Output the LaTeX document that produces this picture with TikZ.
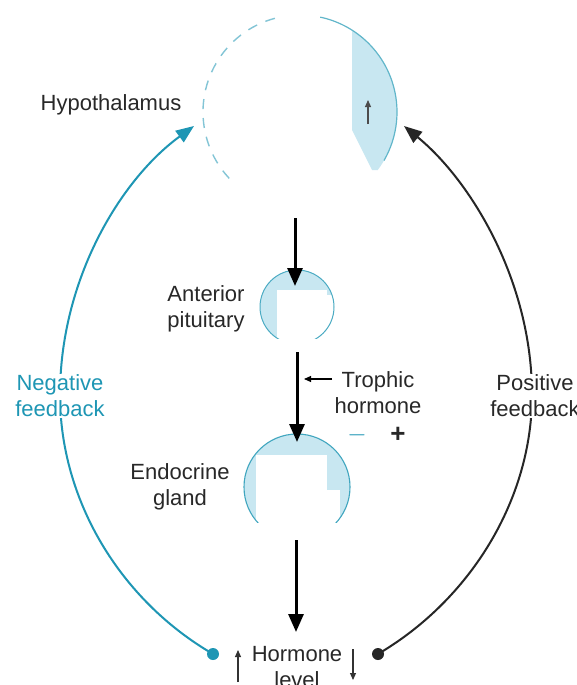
\documentclass[tikz,border=0pt]{standalone}
\usepackage{fontspec}
\setmainfont{Liberation Sans}
\usetikzlibrary{arrows.meta}
\definecolor{fbblue}{RGB}{30,150,180}
\definecolor{lightsh}{RGB}{200,231,241}
\definecolor{txt}{RGB}{40,40,40}
\tikzset{
  lbl/.style={text=txt, font=\fontsize{22}{26}\selectfont, align=center, inner sep=1pt},
  sgn/.style={font=\fontsize{26}{26}\selectfont\bfseries, inner sep=0pt},
  mainarrow/.style={line width=3pt, -{Triangle[length=18pt,width=15pt]}},
  smallarrow/.style={line width=1.1pt, -{Triangle[length=7pt,width=6pt]}},
  fbarrow/.style={line width=2pt, -{Triangle[length=18pt,width=14pt]}},
  dot/.style={circle, inner sep=0pt, minimum size=12pt}
}
\begin{document}
\begin{tikzpicture}[x=1pt,y=-1pt]
\useasboundingbox (0,0) rectangle (577,685);
\fill[white] (0,0) rectangle (577,685);

% Hypothalamus circle
\coordinate (hc) at (300,112);
\begin{scope}
  \clip (hc) circle (97);
  \fill[lightsh] (352,0) -- (400,0) -- (400,170) -- (372,170) -- (352,130) -- cycle;
\end{scope}
\draw[fbblue!70, line width=1.2pt] (hc) ++(-78:97) arc[start angle=-78, end angle=30, radius=97];
\draw[fbblue!55, line width=1.4pt, dash pattern=on 10pt off 9pt] (hc) ++(-105:97) arc[start angle=-105, end angle=-225, radius=97];
\coordinate (ua1) at (368,124);
\coordinate (ua2) at (368,100);
\draw[smallarrow, black!70] (ua1) -- (ua2);

% Anterior pituitary
\coordinate (pc) at (297,307);
\begin{scope}
  \clip (0,0) rectangle (577,338);
  \fill[lightsh] (pc) circle (37);
  \fill[white] (277,290) rectangle (327,350);
  \fill[white] (327,295) rectangle (340,350);
  \draw[fbblue!80, line width=1pt] (pc) circle (37);
\end{scope}

% Endocrine gland
\coordinate (ec) at (297,487);
\begin{scope}
  \clip (0,0) rectangle (577,522);
  \fill[lightsh] (ec) circle (53);
  \fill[white] (256,455) rectangle (327,530);
  \fill[white] (327,490) rectangle (340,530);
  \draw[fbblue!85, line width=1.1pt] (ec) circle (53);
\end{scope}

% labels
\node[lbl] (hyp) at (111,105) {Hypothalamus};
\node[lbl] (ant) at (206,309) {Anterior\\pituitary};
\node[lbl] (endo) at (180,487) {Endocrine\\gland};
\node[lbl] (tro) at (378,393) {Trophic\\hormone};
\node[sgn, text=fbblue] (minus) at (357,435) {$-$};
\node[sgn, text=txt] (plus) at (398,435) {+};
\node[lbl] (horm) at (297,667) {Hormone\\level};

% main arrows
\coordinate (a1s) at (295,218);
\coordinate (a1e) at (295,286);
\coordinate (a2s) at (297,352);
\coordinate (a2e) at (297,442);
\coordinate (a3s) at (296,540);
\coordinate (a3e) at (296,632);
\draw[mainarrow] (a1s) -- (a1e);
\draw[mainarrow] (a2s) -- (a2e);
\draw[mainarrow] (a3s) -- (a3e);

% trophic pointer
\coordinate (tp1) at (332,379);
\coordinate (tp2) at (304,379);
\draw[smallarrow] (tp1) -- (tp2);

% hormone level arrows
\coordinate (hu1) at (238,682);
\coordinate (hu2) at (238,650);
\coordinate (hd1) at (353,649);
\coordinate (hd2) at (353,680);
\draw[smallarrow, black!80] (hu1) -- (hu2);
\draw[smallarrow, black!80] (hd1) -- (hd2);

% feedback dots
\node[dot, fill=fbblue] (bdot) at (213,654) {};
\node[dot, fill=black!85] (kdot) at (378,654) {};
\coordinate (btip) at (194,126);
\coordinate (ktip) at (404,126);

% feedback loops
\draw[fbarrow, fbblue] (bdot.center) .. controls (120,600) and (60,500) .. (60,395)
   .. controls (60,280) and (120,180) .. (btip);
\draw[fbarrow, black!85] (kdot.center) .. controls (470,600) and (532,500) .. (532,395)
   .. controls (532,280) and (470,180) .. (ktip);

\node[lbl, text=fbblue, fill=white] (neg) at (60,396) {Negative\\feedback};
\node[lbl, fill=white] (pos) at (535,396) {Positive\\feedback};
\end{tikzpicture}
\end{document}
